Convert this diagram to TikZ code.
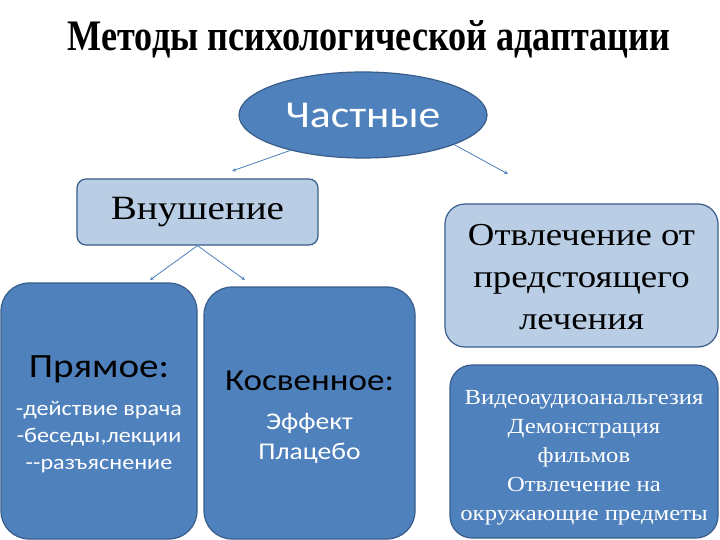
\documentclass[tikz,border=0pt]{standalone}
\usepackage{fontspec}
\setmainfont[FakeStretch=1.15]{Liberation Serif}
\newfontfamily\titlefont{Liberation Serif}
\newfontfamily\calib[FakeStretch=1.15]{Carlito}
\usetikzlibrary{shapes.geometric,arrows.meta}
\definecolor{midblue}{HTML}{4F81BD}
\definecolor{darkedge}{HTML}{385D8A}
\definecolor{lightblue}{HTML}{B9CDE5}
\definecolor{linkblue}{HTML}{4A7EBB}
\tikzset{
  darkbox/.style={draw=darkedge, line width=1.2pt, fill=midblue, inner sep=0pt, align=center},
  lightbox/.style={draw=darkedge, line width=1.2pt, fill=lightblue, inner sep=0pt, align=center},
  txt/.style={inner sep=0pt, align=center},
  link/.style={draw=linkblue, line width=0.8pt, -{Stealth[length=4pt,width=3.5pt]}},
}
\begin{document}
\begin{tikzpicture}[x=1pt,y=-1pt]
\useasboundingbox (0,0) rectangle (720,540);
\fill[white] (0,0) rectangle (720,540);

\node[txt] (title) at (369,39) {\resizebox{602pt}{30pt}{\titlefont\bfseries Методы психологической адаптации}};

\node[darkbox, ellipse, minimum width=248pt, minimum height=86pt, text=white,
      font=\calib\fontsize{38}{42}\selectfont] (ell) at (363,115) {Частные};

\node[lightbox, rounded corners=9pt, minimum width=241pt, minimum height=66pt,
      font=\fontsize{34}{40}\selectfont] (vn) at (197.5,212) {Внушение};

\node[lightbox, rounded corners=20pt, minimum width=273pt, minimum height=143pt] (otv) at (581.5,275.5) {};
\node[txt, font=\fontsize{32}{42}\selectfont] (otvt) at (581.5,277)
  {Отвлечение от\\ предстоящего\\ лечения};

\node[darkbox, rounded corners=28pt, minimum width=196pt, minimum height=256pt] (pr) at (99,411) {};
\node[txt, font=\calib\fontsize{34}{38}\selectfont] (prh) at (99,369) {Прямое:};
\node[txt, text=white, font=\calib\fontsize{21}{27}\selectfont] (prl) at (99,437.5)
  {-действие врача\\ -беседы,лекции\\ --разъяснение};

\node[darkbox, rounded corners=28pt, minimum width=211pt, minimum height=252pt] (kos) at (309.5,413) {};
\node[txt, font=\calib\fontsize{30.5}{36}\selectfont] (kosh) at (309.5,381) {Косвенное:};
\node[txt, text=white, font=\calib\fontsize{24}{30}\selectfont] (kosl) at (309.5,438)
  {Эффект\\ Плацебо};

\node[darkbox, rounded corners=22pt, minimum width=268pt, minimum height=173pt] (vid) at (584,451.5) {};
\node[txt, text=white, font=\fontsize{21.5}{29}\selectfont] (vidt) at (584,458)
  {Видеоаудиоанальгезия\\ Демонстрация\\ фильмов\\ Отвлечение на\\ окружающие предметы};

\coordinate (e1) at (232,171);
\coordinate (e2) at (508,174);
\coordinate (e3) at (150,280);
\coordinate (e4) at (245,280);
\draw[link] (ell.206) -- (e1);
\draw[link] (ell.342) -- (e2);
\draw[link] (vn.south) -- (e3);
\draw[link] (vn.south) -- (e4);
\end{tikzpicture}
\end{document}
